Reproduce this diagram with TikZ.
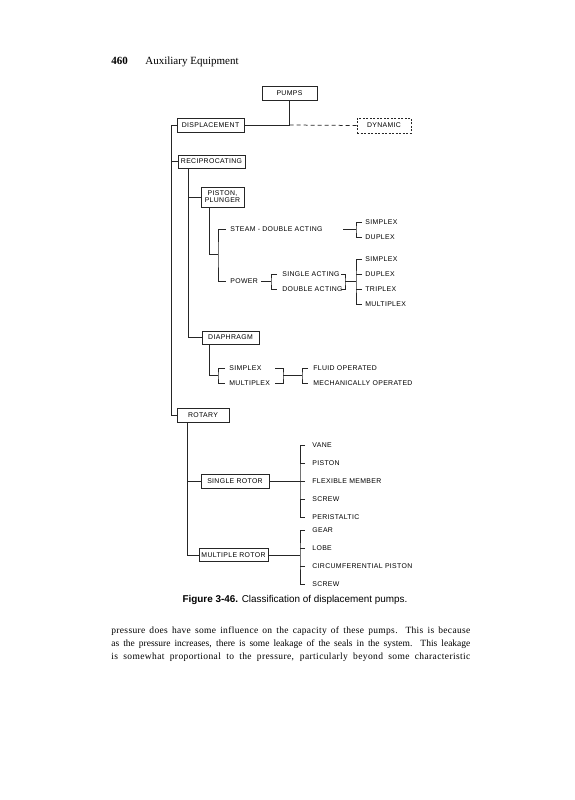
\documentclass[tikz,border=0pt]{standalone}
\usepackage{fontspec}
\setmainfont{Liberation Serif}
\newfontfamily\dfont[LetterSpace=5]{Liberation Sans}
\newfontfamily\cfont{Liberation Sans}
\newfontfamily\bodyA[LetterSpace=3.5]{Liberation Serif}
\newfontfamily\bodyB[LetterSpace=4]{Liberation Serif}
\begin{document}
\begin{tikzpicture}[x=1pt,y=-1pt,
  line width=0.75pt, draw=black!85,
  box/.style={draw, line width=0.65pt, inner sep=0pt, minimum height=14pt,
    font=\dfont\fontsize{6.9}{8}\selectfont, align=center},
  lbl/.style={anchor=west, inner sep=0pt, text height=5pt, text depth=0pt,
    font=\dfont\fontsize{6.9}{8}\selectfont},
  bodyline/.style={anchor=base west, inner sep=0pt, font=\fontsize{9.5}{13}\selectfont}]
\useasboundingbox (0,0) rectangle (574,800);

% header
\node[anchor=base west, inner sep=0pt, font=\fontsize{11}{13}\selectfont\bfseries] (pg) at (111,65) {460};
\node[anchor=base west, inner sep=0pt, font=\fontsize{11}{13}\selectfont] (hd) at (145,65) {Auxiliary Equipment};

% top level
\node[box, minimum width=55pt] (pumps) at (289.5,93) {PUMPS};
\node[box, minimum width=67pt] (disp) at (210.5,125) {DISPLACEMENT};
\node[box, minimum width=54pt, minimum height=15pt, dash pattern=on 2pt off 1.5pt] (dyn) at (384,125.5) {DYNAMIC};
\coordinate (j1) at (289.5,125);
\draw (pumps.south) -- (j1);
\draw (disp.east) -- (j1);
\draw[dash pattern=on 4pt off 3pt] (j1) -- (dyn.west);

% main trunk
\node[box, minimum width=67pt, minimum height=13pt] (recip) at (211.5,161.5) {RECIPROCATING};
\node[box, minimum width=52pt] (rot) at (203,415) {ROTARY};
\coordinate (t1) at (171,125);
\draw (disp.west) -- (t1) |- (rot.west);
\draw (recip.west -| t1) -- (recip.west);

% reciprocating trunk
\node[box, minimum width=43pt, minimum height=20pt] (pist) at (222.5,197) {PISTON,\\[-1pt]PLUNGER};
\node[box, minimum width=57pt, minimum height=13pt] (diaph) at (230.5,337.5) {DIAPHRAGM};
\coordinate (t2) at ([xshift=-23.5pt]recip.south);
\draw (t2) |- (diaph.west);
\draw (pist.west -| t2) -- (pist.west);

% piston / plunger
\coordinate (t3) at ([xshift=-13.5pt]pist.south);
\coordinate (b1m) at (218,254);
\draw (t3) |- (b1m);
\node[lbl] (steam) at (230,229) {STEAM - DOUBLE ACTING};
\node[lbl] (power) at (230,281) {POWER};
\draw ([xshift=-4pt]steam.west) -| (b1m) |- ([xshift=-4pt]power.west);

% steam: simplex / duplex
\coordinate (s0) at (343,229);
\coordinate (b2m) at (356,229);
\draw (s0) -- (b2m);
\node[lbl] (sx1) at (365,222) {SIMPLEX};
\node[lbl] (dx1) at (365,237) {DUPLEX};
\draw ([xshift=-3pt]sx1.west) -| (b2m) |- ([xshift=-3pt]dx1.west);

% power: single / double acting
\coordinate (p0) at (261,281);
\coordinate (b3m) at (271,281);
\draw (p0) -- (b3m);
\node[lbl] (sa) at (282,274) {SINGLE ACTING};
\node[lbl] (da) at (282,289) {DOUBLE ACTING};
\draw ([xshift=-5pt]sa.west) -| (b3m) |- ([xshift=-5pt]da.west);
\coordinate (sae) at (341,274);
\coordinate (dae) at (341,289);
\coordinate (b4m) at (345,281.5);
\draw (sae) -| (b4m) |- (dae);
\coordinate (b5m) at (356,281.5);
\draw (b4m) -- (b5m);
\node[lbl] (sx2) at (365,259) {SIMPLEX};
\node[lbl] (dx2) at (365,274) {DUPLEX};
\node[lbl] (tx2) at (365,289) {TRIPLEX};
\node[lbl] (mx2) at (365,304) {MULTIPLEX};
\draw ([xshift=-3pt]sx2.west) -| (b5m) |- ([xshift=-3pt]mx2.west);
\draw ([xshift=-3pt]dx2.west) -- (dx2.west -| b5m);
\draw ([xshift=-3pt]tx2.west) -- (tx2.west -| b5m);

% diaphragm
\coordinate (t4) at ([xshift=-21.5pt]diaph.south);
\coordinate (b6m) at (218,375.5);
\draw (t4) |- (b6m);
\node[lbl] (sx3) at (229,368) {SIMPLEX};
\node[lbl] (mx3) at (229,383) {MULTIPLEX};
\draw ([xshift=-4pt]sx3.west) -| (b6m) |- ([xshift=-4pt]mx3.west);
\coordinate (r1) at (275,368);
\coordinate (r2) at (275,383);
\coordinate (b7m) at (283,375.5);
\draw (r1) -| (b7m) |- (r2);
\coordinate (b8m) at (302,375.5);
\draw (b7m) -- (b8m);
\node[lbl] (fo) at (313,368) {FLUID OPERATED};
\node[lbl] (mo) at (313,383) {MECHANICALLY OPERATED};
\draw ([xshift=-5pt]fo.west) -| (b8m) |- ([xshift=-5pt]mo.west);

% rotary
\node[box, minimum width=68pt] (srot) at (235,481) {SINGLE ROTOR};
\node[box, minimum width=69pt, minimum height=13pt] (mrot) at (233.5,555) {MULTIPLE ROTOR};
\coordinate (t5) at ([xshift=-16pt]rot.south);
\draw (t5) |- (mrot.west);
\draw (srot.west -| t5) -- (srot.west);

\coordinate (b9m) at (300,481);
\draw (srot.east) -- (b9m);
\node[lbl] (vane) at (312,445) {VANE};
\node[lbl] (rpist) at (312,463) {PISTON};
\node[lbl] (flex) at (312,481) {FLEXIBLE MEMBER};
\node[lbl] (scr1) at (312,499) {SCREW};
\node[lbl] (peri) at (312,517) {PERISTALTIC};
\draw ([xshift=-7pt]vane.west) -| (b9m) |- ([xshift=-7pt]peri.west);
\draw ([xshift=-7pt]rpist.west) -- (rpist.west -| b9m);
\draw ([xshift=-7pt]flex.west) -- (flex.west -| b9m);
\draw ([xshift=-7pt]scr1.west) -- (scr1.west -| b9m);

\coordinate (b10m) at (300,555);
\draw (mrot.east) -- (b10m);
\node[lbl] (gear) at (312,530) {GEAR};
\node[lbl] (lobe) at (312,548) {LOBE};
\node[lbl] (circ) at (312,566) {CIRCUMFERENTIAL PISTON};
\node[lbl] (scr2) at (312,584) {SCREW};
\draw ([xshift=-7pt]gear.west) -| (b10m) |- ([xshift=-7pt]scr2.west);
\draw ([xshift=-7pt]lobe.west) -- (lobe.west -| b10m);
\draw ([xshift=-7pt]circ.west) -- (circ.west -| b10m);

% caption
\node[inner sep=0pt, font=\cfont\fontsize{9.9}{12}\selectfont] (cap) at (295,600)
  {\textbf{Figure 3-46.} Classification of displacement pumps.};

% body text
\node[bodyline] (l1) at (111,633) {\bodyA\makebox[359pt][s]{pressure does have some influence on the capacity of these pumps. This is because}};
\node[bodyline] (l2) at (111,646) {\makebox[359pt][s]{as the pressure increases, there is some leakage of the seals in the system. This leakage}};
\node[bodyline] (l3) at (111,659) {\bodyB\makebox[359pt][s]{is somewhat proportional to the pressure, particularly beyond some characteristic}};
\end{tikzpicture}
\end{document}
